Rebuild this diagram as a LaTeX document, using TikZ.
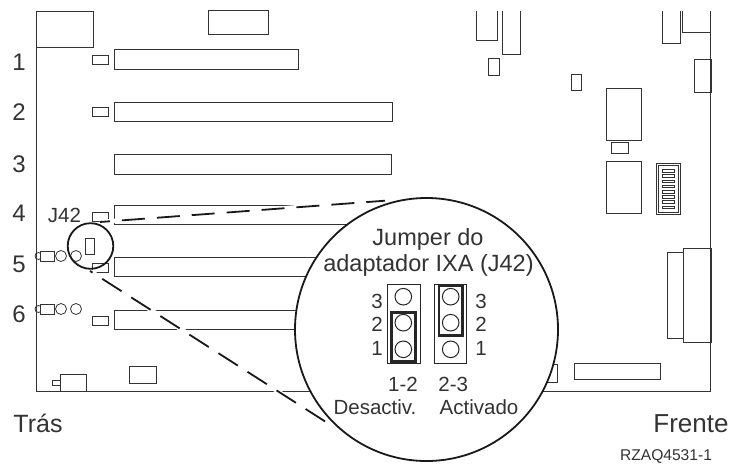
\documentclass[tikz,border=0pt]{standalone}
\usepackage{fontspec}
\setmainfont{Liberation Sans}
\usetikzlibrary{positioning}
\definecolor{inkgray}{HTML}{333333}
\tikzset{
  part/.style={draw=inkgray, line width=1pt},
  thin part/.style={draw=inkgray, line width=.8pt},
  jumper/.style={draw=black!85, line width=2.6pt},
  pin/.style={draw=black!85, line width=1pt},
  zoomline/.style={draw=black!90, line width=1.8pt},
  zoomgap/.style={draw=white, line width=4.5pt},
  slotno/.style={anchor=base, text=inkgray, font=\fontsize{24}{24}\selectfont},
  biglabel/.style={anchor=base, text=inkgray, font=\fontsize{23.5}{24}\selectfont},
  jlabel/.style={anchor=base, text=inkgray, font=\fontsize{20.5}{24}\selectfont},
}
\begin{document}
\begin{tikzpicture}[x=1pt, y=-1pt]
      \useasboundingbox (0,0) rectangle (729,464);

      % board outline
      \draw[part] (36.5,11) -- (36.5,391) -- (710.7,391) -- (710.7,11);
      \draw[part] (36.5,11) rectangle (93,47);
      \draw[part] (208.5,10.5) rectangle (268.5,34.5);

      % slots
      \draw[part] (114,49) rectangle (298,69);
      \draw[part] (114,102) rectangle (392,121);
      \draw[part] (114.5,154) rectangle (391.5,174);
      \draw[part] (303,205) -- (114.5,205) -- (114.5,224) -- (392,224);
      \draw[part] (114.5,257.3) rectangle (392,276.7);
      \draw[part] (114.5,310) rectangle (392,329.3);
      \draw[thin part] (92.5,55) rectangle (108.5,64);
      \draw[thin part] (92.5,107) rectangle (108.5,116);
      \draw[thin part] (92.5,212) rectangle (108.5,221);
      \draw[thin part] (92.5,263) rectangle (108.5,272);
      \draw[thin part] (92.5,316.7) rectangle (108.5,325.7);

      % connectors on the left
      \foreach \rowy in {256,309} {
        \draw[thin part] (38.5,\rowy) circle (3.5);
        \draw[thin part, fill=white] (40,\rowy-5) rectangle (54,\rowy+5);
        \draw[thin part] (61,\rowy) circle (5.5);
        \draw[thin part] (76,\rowy) circle (5.5);
      }
      \draw[thin part] (52,380) rectangle (60,385.7);
      \draw[part] (60,374) rectangle (86.7,391);
      \draw[part] (129.7,366) rectangle (156.3,383.7);

      % parts at the top
      \draw[part] (476,11) -- (476,40.5) -- (497.3,40.5) -- (497.3,11);
      \draw[part] (502,11) -- (502,54.5) -- (520,54.5) -- (520,11);
      \draw[part] (488,58) rectangle (499.7,75);
      \draw[part] (571.7,74.5) rectangle (581.3,90.5);
      \draw[part] (662,11) -- (662,43) -- (680,43) -- (680,11);
      \draw[part] (682.3,11) -- (682.3,32) -- (710.7,32);
      \draw[part] (694.3,59) rectangle (711,92);

      % parts on the right
      \draw[part] (606.7,88) rectangle (641.7,140);
      \draw[part] (611.7,142) rectangle (628.7,153);
      \draw[part] (606.7,161) rectangle (641.7,213);
      \draw[part] (656.7,163.5) rectangle (680.3,214.5);
      \draw[thin part] (658.7,165.5) rectangle (678.3,212.5);
      \foreach \piny in {169.5,174.7,179.9,185.1,190.3,195.5,200.7,205.9} {
        \draw[thin part] (662.7,\piny) rectangle (674,\piny+2.6);
      }
      \draw[part] (667.7,252.7) rectangle (683.3,338.7);
      \draw[part] (683.3,248.7) rectangle (711,342);
      \draw[part] (574.7,363.7) rectangle (660.7,379.3);
      \draw[part] (530,364) rectangle (557.7,382.7);

      % dashed lines to the enlarged view
      \coordinate (up1) at (100,222);
      \coordinate (up2) at (385,200.7);
      \coordinate (lo1) at (90,271);
      \coordinate (lo2) at (325,421.4);
      \coordinate (lo3) at (336,428.5);
      \draw[zoomgap] (up1) -- (up2);
      \draw[zoomgap] (lo1) -- (lo3);
      \draw[zoomline, dash pattern=on 23pt off 12pt, dash phase=13pt] (up1) -- (up2);
      \draw[zoomline, dash pattern=on 23pt off 11.5pt, dash phase=20pt] (lo1) -- (lo2);

      % small circle and enlarged view
      \node[draw=black!90, line width=1.8pt, circle, minimum size=45.6pt, inner sep=0pt] (lens) at (90.5,246) {};
      \node[draw=inkgray, line width=1pt, minimum width=9pt, minimum height=16pt, inner sep=0pt] (j42part) at (89.5,246) {};
      \node[draw=black!90, fill=white, line width=1.8pt, circle, minimum size=263pt, inner sep=0pt] (view) at (426.5,329.5) {};

      \node[biglabel] (title1) at (428,245) {Jumper do};
      \node[biglabel] (title2) at (428.5,271) {adaptador IXA (J42)};

      % jumper blocks
      \draw[pin] (387.7,284) rectangle (420,363.3);
      \draw[pin] (434.3,284) rectangle (466.7,363.3);
      \foreach \piny in {296.7,322.7,349.3} {
        \draw[pin] (403.3,\piny) circle (8.3);
        \draw[pin] (450.7,\piny) circle (8.3);
      }
      \draw[jumper] (391.7,312.3) rectangle (415.3,361.7);
      \draw[jumper] (439,286) rectangle (462.7,335.7);

      \node[jlabel] (off3) at (377,308) {3};
      \node[jlabel] (off2) at (377,331) {2};
      \node[jlabel] (off1) at (377,355) {1};
      \node[jlabel] (on3) at (481,308) {3};
      \node[jlabel] (on2) at (481,331) {2};
      \node[jlabel] (on1) at (481,355) {1};
      \node[jlabel] (offpins) at (403,391) {1-2};
      \node[jlabel] (onpins) at (453.3,391) {2-3};
      \node[jlabel] (offtext) at (375,414.5) {Desactiv.};
      \node[jlabel] (ontext) at (479,414.5) {Activado};

      % labels outside
      \node[slotno] (no1) at (19,70.7) {1};
      \node[slotno] (no2) at (19,120.7) {2};
      \node[slotno] (no3) at (19,172) {3};
      \node[slotno] (no4) at (19,221.7) {4};
      \node[slotno] (no5) at (19,272) {5};
      \node[slotno] (no6) at (19,322.7) {6};
      \node[anchor=base, text=inkgray, font=\fontsize{20.5}{24}\selectfont] (j42) at (64.5,222.7) {J42};
      \node[anchor=base, text=inkgray, font=\fontsize{25}{26}\selectfont] (back) at (38,432) {Trás};
      \node[anchor=base, text=inkgray, font=\fontsize{26}{26}\selectfont] (front) at (691,432) {Frente};
      \node[anchor=base, text=inkgray, font=\fontsize{15.6}{16}\selectfont] (code) at (666,460.3) {RZAQ4531-1};
    \end{tikzpicture}
\end{document}
